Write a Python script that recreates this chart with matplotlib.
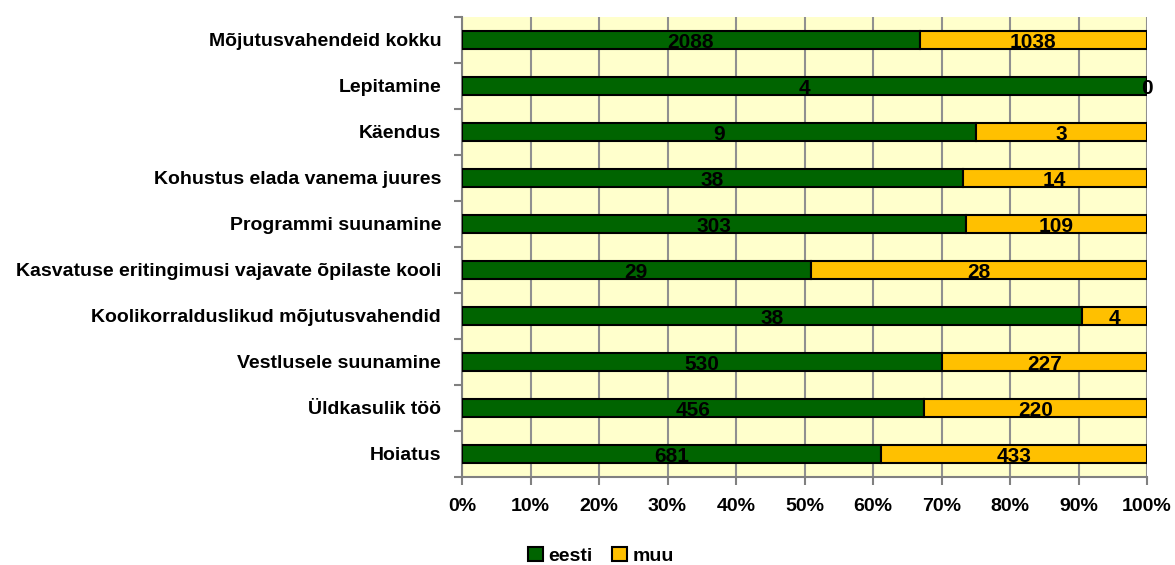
import matplotlib
matplotlib.use("Agg")
import matplotlib.pyplot as plt
import numpy as np
from matplotlib import font_manager

categories = ["Mõjutusvahendeid kokku", "Lepitamine", "Käendus",
              "Kohustus elada vanema juures", "Programmi suunamine",
              "Kasvatuse eritingimusi vajavate õpilaste kooli",
              "Koolikorralduslikud mõjutusvahendid", "Vestlusele suunamine",
              "Üldkasulik töö", "Hoiatus"]
eesti = [2088, 4, 9, 38, 303, 29, 38, 530, 456, 681]
muu = [1038, 0, 3, 14, 109, 28, 4, 227, 220, 433]
xticklabels = ["0%", "10%", "20%", "30%", "40%", "50%", "60%", "70%", "80%", "90%", "100%"]

names = {f.name for f in font_manager.fontManager.ttflist}
main_font = "Liberation Sans" if "Liberation Sans" in names else "DejaVu Sans"
narrow_font = "Liberation Sans Narrow" if "Liberation Sans Narrow" in names else main_font

fig = plt.figure(figsize=(11.75, 5.65), dpi=100)
ax = fig.add_axes([462/1175, 1-477/565, (1147-462)/1175, (477-17)/565])
ax.set_facecolor("#FFFFCC")

e = np.array(eesti, float)
m = np.array(muu, float)
tot = e + m
pe = e / tot * 100
pm = m / tot * 100
y = np.arange(len(categories))

ax.barh(y, pe, height=0.39, color="#006400", edgecolor="black", linewidth=1.5, zorder=3, label="eesti")
ax.barh(y, pm, left=pe, height=0.39, color="#FFC000", edgecolor="black", linewidth=1.5, zorder=3, label="muu")

fs = 15
for i in range(len(y)):
    for xc, val in ((pe[i]/2, eesti[i]), (pe[i] + pm[i]/2, muu[i])):
        ax.annotate(str(val), (xc, y[i]), xytext=(0, -0.36*fs), textcoords="offset points",
                    ha="center", va="baseline", fontsize=fs, fontweight="bold",
                    family=narrow_font, zorder=4, color="black")

ax.set_xlim(0, 100)
ax.set_ylim(len(categories)-0.5, -0.5)
ax.set_xticks(np.arange(0, 101, 10))
ax.set_xticklabels(xticklabels, fontsize=14, fontweight="bold", family=main_font)
ax.set_yticks(y)
ax.set_yticklabels(categories, fontsize=14, fontweight="bold", family=main_font)
ax.tick_params(axis="y", length=0, pad=15)
ax.set_yticks(np.arange(-0.5, len(categories), 1), minor=True)
ax.tick_params(axis="y", which="minor", length=6, color="#808080", width=1.5)
ax.tick_params(axis="x", length=6, color="#808080", width=1.5, pad=9)
ax.grid(axis="x", color="#909090", linewidth=1.5, zorder=0)
for s in ["top", "right"]:
    ax.spines[s].set_visible(False)
for s in ["left", "bottom"]:
    ax.spines[s].set_color("#808080")
    ax.spines[s].set_linewidth(1.5)

leg = fig.legend(loc="center", bbox_to_anchor=(601/1175, 1-556/565), ncol=2, frameon=False,
                 prop={"family": main_font, "weight": "bold", "size": 14},
                 handlelength=0.75, handleheight=0.75, handletextpad=0.3, columnspacing=1.0)
for h in leg.legend_handles:
    h.set_linewidth(1.5)
fig.savefig("out.png", dpi=100)
